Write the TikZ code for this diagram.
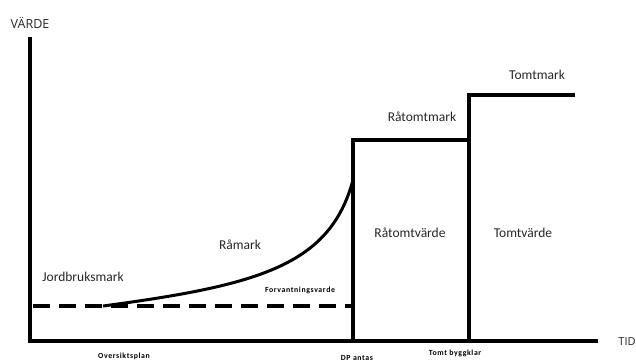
\documentclass[tikz,border=0pt]{standalone}
\usepackage{fontspec}
\setmainfont{Carlito}
\newfontfamily\tinyfont[LetterSpace=8]{Carlito}
\newfontfamily\axfont{Open Sans}
\begin{document}
\begin{tikzpicture}[x=1pt,y=-1pt,
  axis/.style={line width=4.5pt},
  stepline/.style={line width=3.6pt},
  lbl/.style={font=\fontsize{13.5}{15}\selectfont, text=black!85, inner sep=0pt},
  small/.style={font=\tinyfont\bfseries\fontsize{7.8}{9}\selectfont, inner sep=0pt},
  axlbl/.style={font=\axfont\fontsize{11}{12}\selectfont, text=black!85, inner sep=0pt}]
\useasboundingbox (0,0) rectangle (636,362);
% coordinates
\coordinate (ytop) at (30,37);
\coordinate (origin) at (30,341);
\coordinate (xend) at (598,341);
\coordinate (dstart) at (33,306);
\coordinate (dend) at (352,306);
\coordinate (cstart) at (103,306);
\coordinate (cend) at (353,180);
\coordinate (dpbot) at (353,341);
\coordinate (dptop) at (353,140);
\coordinate (tbtop) at (469,140);
\coordinate (tbbot) at (469,341);
\coordinate (tbhi) at (469,95);
\coordinate (tmend) at (575,95);
% axes
\draw[axis] ([yshift=2pt]origin) -- (ytop);
\draw[axis] ([xshift=-2pt]origin) -- (xend);
% dashed expectation line
\draw[stepline, dash pattern=on 17pt off 9pt] (dstart) -- (dend);
% curve
\draw[line width=3pt] (cstart) .. controls (260,285) and (330,265) .. (cend);
% steps
\draw[stepline] (dpbot) -- (dptop) -- (tbtop);
\draw[stepline] (tbbot) -- (tbhi) -- (tmend);
% labels
\node[axlbl, font=\axfont\fontsize{12.5}{14}\selectfont] (varde) at (30,23) {VÄRDE};
\node[axlbl] (tid) at (627,342) {TID};
\node[lbl] (jord) at (83,277) {Jordbruksmark};
\node[lbl] (ramark) at (240,245) {Råmark};
\node[small] (forv) at (300,290) {Forvantningsvarde};
\node[lbl] (ratm) at (422,117) {Råtomtmark};
\node[lbl] (tm) at (537,75) {Tomtmark};
\node[lbl] (ratv) at (410,233) {Råtomtvärde};
\node[lbl] (tv) at (523,233) {Tomtvärde};
\node[small] (osp) at (124,356) {Oversiktsplan};
\node[small] (dp) at (357,358) {DP antas};
\node[small] (tb) at (455,353) {Tomt byggklar};
\end{tikzpicture}
\end{document}
